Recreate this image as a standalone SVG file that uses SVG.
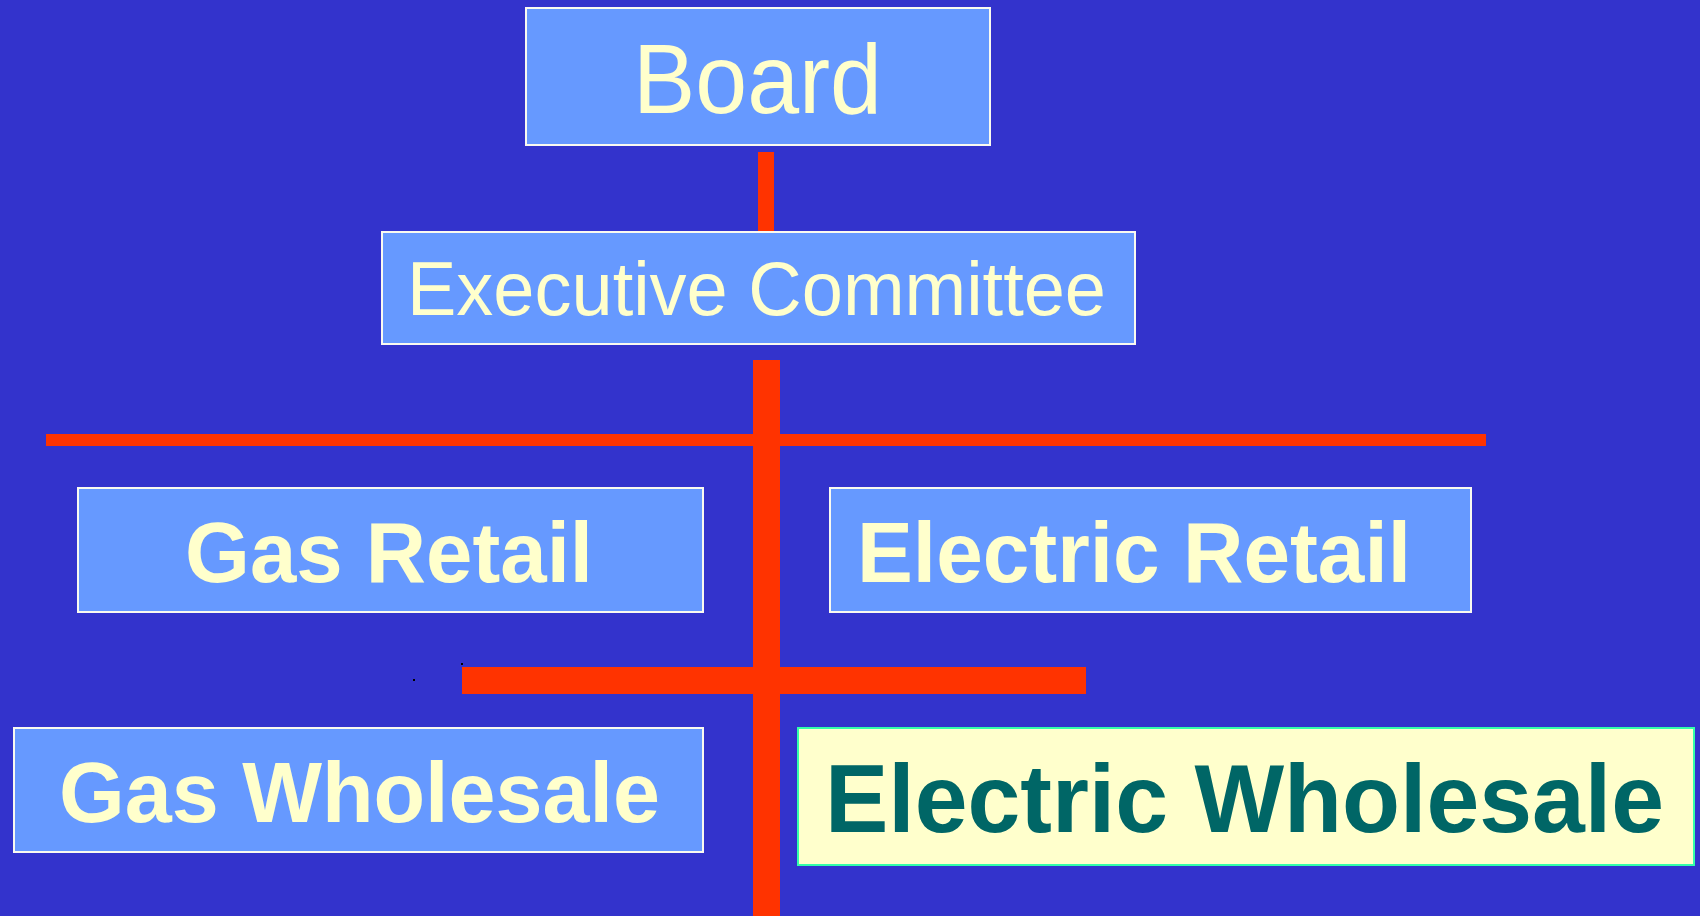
<svg xmlns="http://www.w3.org/2000/svg" width="1700" height="916" viewBox="0 0 1700 916">
<style>
.box{fill:#6699ff;stroke:#fafaf0;stroke-width:2}
.lbl{font-family:"Liberation Sans",Arial,sans-serif;fill:#ffffcc}
.b{font-weight:bold}
.red{fill:#ff3300}
</style>
<rect x="0" y="0" width="1700" height="916" fill="#3333cc"/>
<g id="connectors">
<rect class="red" x="758" y="152" width="16" height="79"/>
<rect class="red" x="753" y="360" width="27" height="556"/>
<rect class="red" x="46" y="434" width="1440" height="12"/>
<rect class="red" x="462" y="667" width="624" height="27"/>
</g>
<g id="board">
<rect class="box" x="526" y="8" width="464" height="137"/>
<text class="lbl" x="633" y="113" font-size="98" textLength="249" lengthAdjust="spacingAndGlyphs">Board</text>
</g>
<g id="executive-committee">
<rect class="box" x="382" y="232" width="753" height="112"/>
<text class="lbl" x="407" y="315" font-size="76" textLength="699" lengthAdjust="spacingAndGlyphs">Executive Committee</text>
</g>
<g id="gas-retail">
<rect class="box" x="78" y="488" width="625" height="124"/>
<text class="lbl b" x="185" y="582" font-size="86" textLength="408" lengthAdjust="spacingAndGlyphs">Gas Retail</text>
</g>
<g id="electric-retail">
<rect class="box" x="830" y="488" width="641" height="124"/>
<text class="lbl b" x="857" y="582" font-size="86" textLength="554" lengthAdjust="spacingAndGlyphs">Electric Retail</text>
</g>
<g id="gas-wholesale">
<rect class="box" x="14" y="728" width="689" height="124"/>
<text class="lbl b" x="59" y="822" font-size="86" textLength="601" lengthAdjust="spacingAndGlyphs">Gas Wholesale</text>
</g>
<g id="electric-wholesale">
<rect x="798" y="728" width="896" height="137" fill="#ffffcc" stroke="#33ffaa" stroke-width="2"/>
<text class="lbl b" x="825" y="832" font-size="96" fill="#006666" style="fill:#006666" textLength="839" lengthAdjust="spacingAndGlyphs">Electric Wholesale</text>
</g>
<rect x="413" y="679" width="2" height="2" fill="#000"/>
<rect x="461" y="663" width="2" height="2" fill="#000"/>
</svg>
